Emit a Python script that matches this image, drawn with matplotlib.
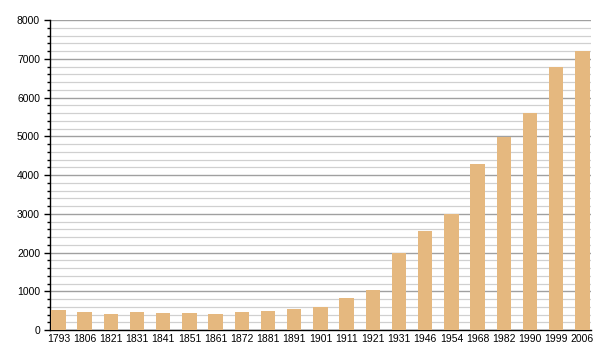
import numpy as np
import matplotlib.pyplot as plt
from matplotlib.ticker import MultipleLocator

years = ['1793', '1806', '1821', '1831', '1841', '1851', '1861', '1872', '1881',
         '1891', '1901', '1911', '1921', '1931', '1946', '1954', '1968', '1982',
         '1990', '1999', '2006']
population = [520, 475, 425, 475, 450, 450, 425, 475, 500, 550, 595, 835,
              1035, 1985, 2570, 3000, 4290, 4980, 5600, 6780, 7200]

plt.rcParams['font.family'] = ['Liberation Sans', 'DejaVu Sans']

fig = plt.figure(figsize=(6, 3.6), dpi=100)
ax = fig.add_axes([0.083, 0.083, 0.902, 0.861])

x = np.arange(len(years))
ax.bar(x, population, width=0.55, color='#e5b87f', zorder=3)

ax.set_xlim(-0.33, len(years) - 1 + 0.33)
ax.set_ylim(0, 8000)
ax.set_xticks(x)
ax.set_xticklabels(years)
ax.yaxis.set_major_locator(MultipleLocator(1000))
ax.yaxis.set_minor_locator(MultipleLocator(200))

# darker major lines, lighter minor lines
ax.grid(which='major', axis='y', color='#a0a0a0', linewidth=1.0, zorder=0)
ax.grid(which='minor', axis='y', color='#d0d0d0', linewidth=0.9, zorder=0)

for s in ['top', 'right']:
    ax.spines[s].set_visible(False)
ax.spines['left'].set_linewidth(1.0)
ax.spines['bottom'].set_linewidth(1.0)

ax.tick_params(axis='x', length=0, pad=3, labelsize=7.5)
ax.tick_params(axis='y', which='major', length=4, width=1, labelsize=7.5, pad=3)
ax.tick_params(axis='y', which='minor', length=2, width=1)

fig.savefig('out.png', dpi=100)
